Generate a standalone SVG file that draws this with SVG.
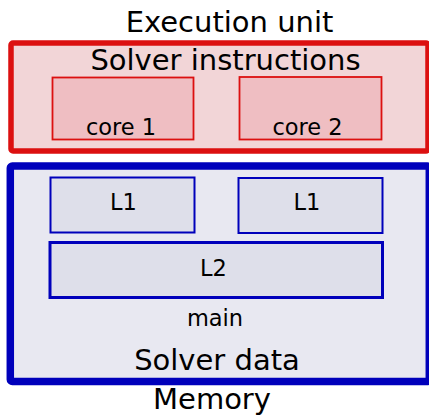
<svg xmlns="http://www.w3.org/2000/svg" width="429" height="415" viewBox="0 0 429 415">
<style>
text{font-family:"DejaVu Sans",sans-serif;fill:#000;text-anchor:middle}
.big{font-size:29px}
.mid{font-size:22.5px}
.red-outer{fill:#f2d5d7;stroke:#dc1010;stroke-width:5.5}
.red-inner{fill:#efbec2;stroke:#dc1010;stroke-width:1.8}
.blue-outer{fill:#e8e8f1;stroke:#0000bb;stroke-width:7.5}
.blue-inner{fill:#dedfea;stroke:#0000bb;stroke-width:2}
.blue-inner2{fill:#dedfea;stroke:#0000bb;stroke-width:3}
</style>
<g id="execution-unit">
<text class="big" x="229.5" y="32">Execution unit</text>
<rect class="red-outer" x="11" y="43" width="417" height="108" rx="2"/>
<text class="big" x="225.5" y="70">Solver instructions</text>
</g>
<g id="core1">
<rect class="red-inner" x="52.5" y="77.5" width="141" height="62"/>
<text class="mid" x="121" y="135">core 1</text>
</g>
<g id="core2">
<rect class="red-inner" x="239.5" y="77" width="142" height="62.5"/>
<text class="mid" x="307.5" y="135">core 2</text>
</g>
<g id="memory">
<rect class="blue-outer" x="10.3" y="166" width="419" height="215.5" rx="2"/>
<text class="mid" x="215" y="326">main</text>
<text class="big" x="217" y="369.5">Solver data</text>
<text class="big" x="212" y="409">Memory</text>
</g>
<g id="l1a">
<rect class="blue-inner" x="50.5" y="177.5" width="144" height="55"/>
<text class="mid" x="123.5" y="209.5">L1</text>
</g>
<g id="l1b">
<rect class="blue-inner" x="238.5" y="178" width="144" height="55"/>
<text class="mid" x="307" y="210">L1</text>
</g>
<g id="l2">
<rect class="blue-inner2" x="50" y="242.5" width="332.5" height="55"/>
<text class="mid" x="213.5" y="276">L2</text>
</g>
<g id="connectors"/>
</svg>
